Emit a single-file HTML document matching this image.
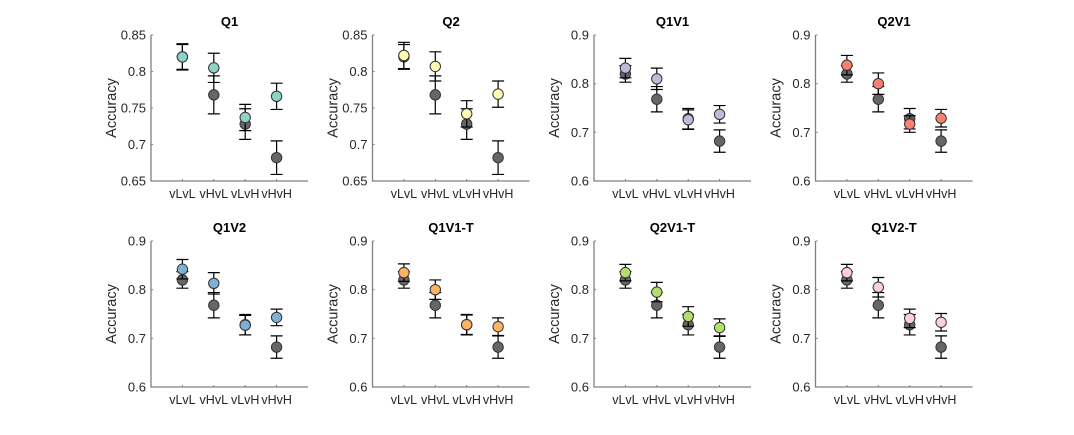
<!DOCTYPE html>
<html><head><meta charset="utf-8"><style>
html,body{margin:0;padding:0;background:#fff;}
svg{display:block;font-family:"Liberation Sans",Arial,sans-serif;}
</style></head><body>
<svg id="fig" width="1074" height="435" viewBox="0 0 1074 435"></svg>
<script>
const categories = ["vLvL","vHvL","vLvH","vHvH"];
const titles = ["Q1","Q2","Q1V1","Q2V1","Q1V2","Q1V1-T","Q2V1-T","Q1V2-T"];
const colors = ["#8dd3c7","#ffffb3","#bebada","#fb8072","#80b1d3","#fdb462","#b3de69","#fccde5"];
const baseMeans = [0.820,0.768,0.728,0.682];
const baseErrs = [0.017,0.026,0.021,0.023];
const q1Means=[0.820,0.805,0.737,0.766], q1Errs=[0.018,0.020,0.018,0.018];
const q2Means=[0.822,0.807,0.742,0.769], q2Errs=[0.018,0.020,0.018,0.018];
const q1v1Means=[0.832,0.810,0.726,0.737], q1v1Errs=[0.020,0.022,0.020,0.018];
const q2v1Means=[0.838,0.800,0.717,0.729], q2v1Errs=[0.020,0.022,0.017,0.018];
const q1v2Means=[0.842,0.813,0.727,0.743], q1v2Errs=[0.020,0.022,0.020,0.017];
const q1v1tMeans=[0.835,0.800,0.728,0.724], q1v1tErrs=[0.018,0.020,0.020,0.018];
const q2v1tMeans=[0.835,0.795,0.745,0.722], q2v1tErrs=[0.017,0.020,0.020,0.018];
const q1v2tMeans=[0.835,0.805,0.741,0.733], q1v2tErrs=[0.017,0.020,0.019,0.018];
const seriesMeans=[q1Means,q2Means,q1v1Means,q2v1Means,q1v2Means,q1v1tMeans,q2v1tMeans,q1v2tMeans];
const seriesErrs=[q1Errs,q2Errs,q1v1Errs,q2v1Errs,q1v2Errs,q1v1tErrs,q2v1tErrs,q1v2tErrs];
const ticksA=[0.65,0.7,0.75,0.8,0.85], tickLabelsA=["0.65","0.7","0.75","0.8","0.85"];
const ticksB=[0.6,0.7,0.8,0.9], tickLabelsB=["0.6","0.7","0.8","0.9"];

const NS="http://www.w3.org/2000/svg";
const svg=document.getElementById('fig');
function mk(tag,attrs,parent){const e=document.createElementNS(NS,tag);for(const k in attrs)e.setAttribute(k,attrs[k]);(parent||svg).appendChild(e);return e;}
const colX=[151,372.5,594,815.5], rowY=[35,241], W=157, H=146;

for(let p=0;p<8;p++){
  const r=Math.floor(p/4), c=p%4;
  const x0=colX[c], y0=rowY[r];
  const isA=p<2;
  const ylo=isA?0.65:0.6, yhi=isA?0.85:0.9;
  const ticks=isA?ticksA:ticksB, labs=isA?tickLabelsA:tickLabelsB;
  const sx=i=>x0+(i+1)*W/5;
  const sy=v=>y0+H-(v-ylo)/(yhi-ylo)*H;
  const g=mk('g',{});
  
  
  const t=mk('text',{x:x0+W/2,y:y0-9,'text-anchor':'middle','font-size':'13','font-weight':'bold',fill:'#000'},g);
  t.textContent=titles[p];
  
  
  const yl=mk('text',{transform:`translate(${x0-35},${y0+H/2}) rotate(-90)`,'text-anchor':'middle','font-size':'14.5',fill:'#262626'},g);
  yl.textContent='Accuracy';
  
  
  const ax=mk('path',{d:`M${x0},${y0} V${y0+H} H${x0+W}`,stroke:'#808080','stroke-width':'1.3',fill:'none'},g);
  
  
  ticks.forEach((v,i)=>{
    mk('line',{x1:x0,x2:x0+2,y1:sy(v),y2:sy(v),stroke:'#808080'},g);
    const tl=mk('text',{x:x0-5,y:sy(v)+4.5,'text-anchor':'end','font-size':'13',fill:'#262626'},g);
    tl.textContent=labs[i];
    
    
  });
  categories.forEach((cat,i)=>{
    mk('line',{x1:sx(i),x2:sx(i),y1:y0+H,y2:y0+H-2,stroke:'#808080'},g);
    const xl=mk('text',{x:sx(i),y:y0+H+17,'text-anchor':'middle','font-size':'12.5',fill:'#262626'},g);
    xl.textContent=cat;
    
    
  });
  function series(means,errs,fill,name){
    means.forEach((m,i)=>{
      const x=sx(i), e=errs[i];
      const eb=mk('path',{d:`M${x},${sy(m-e)} V${sy(m+e)} M${x-6},${sy(m-e)} H${x+6} M${x-6},${sy(m+e)} H${x+6}`,stroke:'#000','stroke-width':'1.2',fill:'none'},g);
      
      
      const pt=mk('circle',{cx:x,cy:sy(m),r:5.2,fill:fill,stroke:'#333','stroke-width':'1'},g);
      
      
    });
  }
  series(baseMeans,baseErrs,'#666666','baseline');
  series(seriesMeans[p],seriesErrs[p],colors[p],'condition');
}
</script>
</body></html>
